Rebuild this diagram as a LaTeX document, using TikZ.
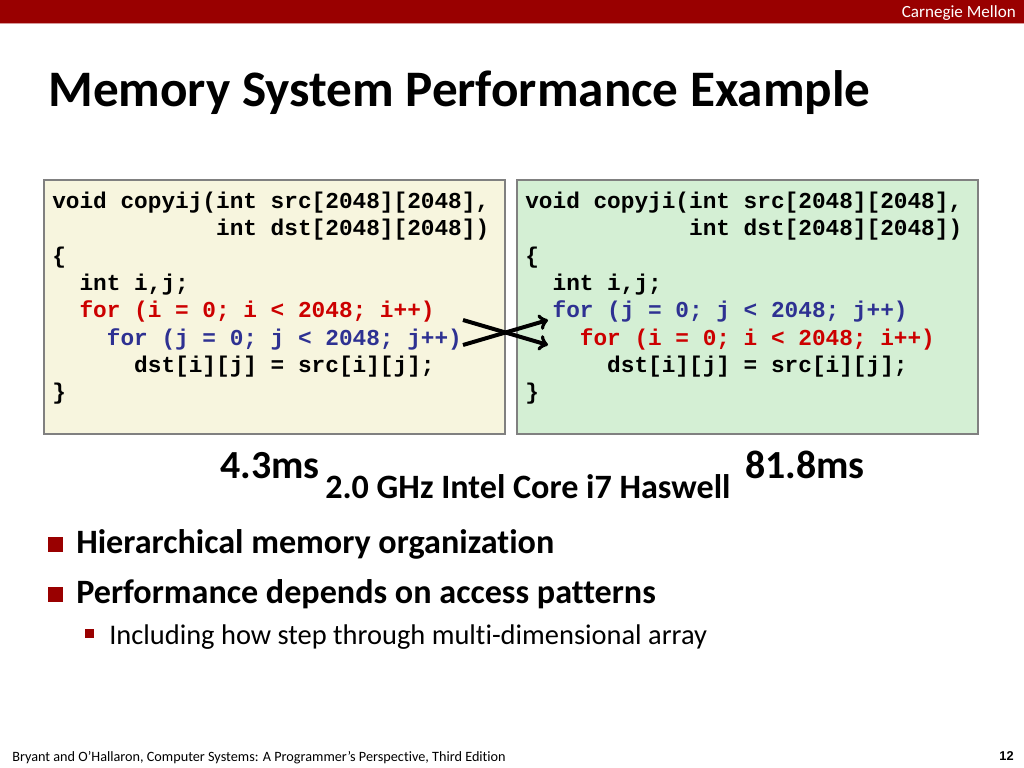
\documentclass[tikz,border=0pt]{standalone}
\usepackage{fontspec}
\usepackage{xcolor}
\usepackage{tikz}
\setmainfont{Carlito}[Ligatures=NoCommon]
\setmonofont{Liberation Mono}

\definecolor{cmured}{HTML}{990000}
\definecolor{ijfill}{HTML}{F7F5DE}
\definecolor{jifill}{HTML}{D4EFD4}
\definecolor{loopred}{HTML}{CC0000}
\definecolor{loopblue}{HTML}{2E3192}

\newcommand{\codeind}[1]{\hspace*{#1em}}

\tikzset{
    codeline/.style={anchor=base west, inner sep=0pt, font=\ttfamily\bfseries\fontsize{16}{19.2}\selectfont},
    codebox/.style={draw=black!50, line width=0.8pt},
    bulletsq/.style={fill=cmured, draw=none},
}

\begin{document}
\begin{tikzpicture}[x=0.703125pt, y=-0.703125pt]
        \useasboundingbox (0, 0) rectangle (1024, 768);
        % header bar
        \fill[cmured] (0, 0) rectangle (1024, 23);
        \draw[cmured!40, line width=0.8pt] (0, 23.5) -- (1024, 23.5);
        \node[anchor=base east, inner sep=0pt, text=white, font=\fontsize{12}{14}\selectfont] (cmu) at (1016, 18) {Carnegie Mellon};
        
        \node[anchor=base west, inner sep=0pt, font=\bfseries\fontsize{36}{43}\selectfont] (title) at (48, 107) {Memory System Performance Example};
        
        % code boxes
        \filldraw[codebox, fill=ijfill] (44, 180) rectangle (505, 434);
        \filldraw[codebox, fill=jifill] (517, 180) rectangle (978, 434);
        
        \foreach \ln [count=\k from 0] in {
            {void copyij(int src[2048][2048],},
            {\codeind{7.2}int dst[2048][2048])},
            {\{},
            {\codeind{1.2}int i,j;},
            {\codeind{1.2}\color{loopred}for (i = 0; i < 2048; i++)},
            {\codeind{2.4}\color{loopblue}for (j = 0; j < 2048; j++)},
            {\codeind{3.6}dst[i][j] = src[i][j];},
            {\}}}
            \node[codeline] (ij\k) at (52, 208.5 + 27.3*\k) {\ln};
        
        \foreach \ln [count=\k from 0] in {
            {void copyji(int src[2048][2048],},
            {\codeind{7.2}int dst[2048][2048])},
            {\{},
            {\codeind{1.2}int i,j;},
            {\codeind{1.2}\color{loopblue}for (j = 0; j < 2048; j++)},
            {\codeind{2.4}\color{loopred}for (i = 0; i < 2048; i++)},
            {\codeind{3.6}dst[i][j] = src[i][j];},
            {\}}}
            \node[codeline] (ji\k) at (525, 208.5 + 27.3*\k) {\ln};
        
        % swapped loops
        \coordinate (iout) at (463, 320);
        \coordinate (jin) at (463, 345);
        \coordinate (jout) at (548, 320);
        \coordinate (iin) at (548, 345);
        \draw[->, line width=2.8pt] (iout) -- (iin);
        \draw[->, line width=2.8pt] (jin) -- (jout);
        
        % timings
        \node[anchor=base west, inner sep=0pt, font=\bfseries\fontsize{28}{34}\selectfont] (tij) at (220, 478) {4.3ms};
        \node[anchor=base west, inner sep=0pt, font=\bfseries\fontsize{28}{34}\selectfont] (tji) at (745, 478) {81.8ms};
        \node[anchor=base west, inner sep=0pt, font=\bfseries\fontsize{24}{29}\selectfont] (cpu) at (325, 498) {2.0 GHz Intel Core i7 Haswell};
        
        % bullets
        \fill[bulletsq] (48, 537) rectangle (63, 552);
        \node[anchor=base west, inner sep=0pt, font=\bfseries\fontsize{24}{29}\selectfont] (b1) at (76, 553) {Hierarchical memory organization};
        \fill[bulletsq] (48, 587) rectangle (63, 602);
        \node[anchor=base west, inner sep=0pt, font=\bfseries\fontsize{24}{29}\selectfont] (b2) at (76, 603) {Performance depends on access patterns};
        \fill[bulletsq] (85, 629) rectangle (94, 638);
        \node[anchor=base west, inner sep=0pt, font=\fontsize{20}{24}\selectfont] (b3) at (109, 644) {Including how step through multi-dimensional array};
        
        % footer
        \node[anchor=base west, inner sep=0pt, font=\fontsize{10}{12}\selectfont] (foot) at (12, 761) {Bryant and O’Hallaron, Computer Systems: A Programmer’s Perspective, Third Edition};
        \node[anchor=base east, inner sep=0pt, font=\fontspec{Liberation Sans}\bfseries\fontsize{9}{11}\selectfont] (page) at (1014, 760) {12};
    \end{tikzpicture}
\end{document}
